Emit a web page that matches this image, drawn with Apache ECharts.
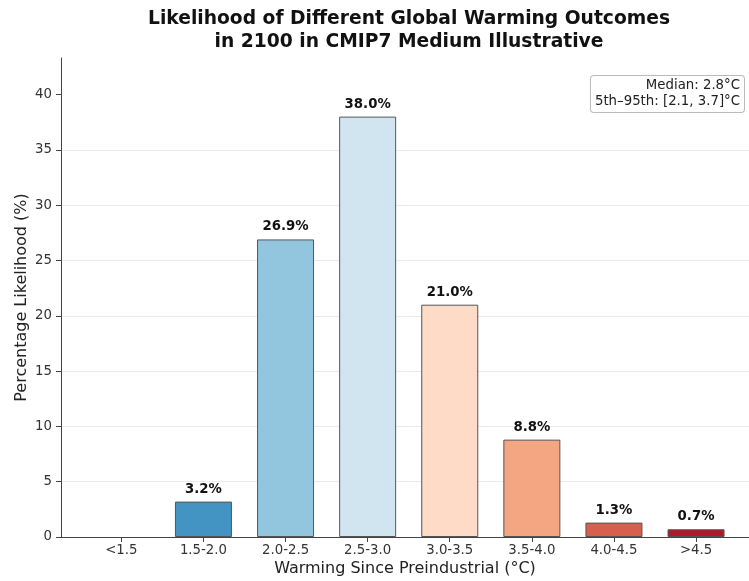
<!DOCTYPE html>
<html>
<head>
<meta charset="utf-8">
<script src="https://cdn.jsdelivr.net/npm/echarts@6.0.0/dist/echarts.min.js"></script>
<style>
html,body{margin:0;padding:0;background:#fff;}
#chart{width:749px;height:581px;}
</style>
</head>
<body>
<div id="chart"></div>
<script>
var categories = ['<1.5', '1.5-2.0', '2.0-2.5', '2.5-3.0', '3.0-3.5', '3.5-4.0', '4.0-4.5', '>4.5'];
var likelihood = [0.0, 3.2, 26.9, 38.0, 21.0, 8.8, 1.3, 0.7];
var yTicks = [0, 5, 10, 15, 20, 25, 30, 35, 40];
var statsLines = ['Median: 2.8°C', '5th–95th: [2.1, 3.7]°C'];

var palette = ['#2166ac', '#4393c3', '#92c5de', '#d1e5f0', '#fddbc7', '#f4a582', '#d6604d', '#b2182b'];
var FONT = 'DejaVu Sans';

var chart = echarts.init(document.getElementById('chart'), null, {renderer: 'canvas'});
var xIdx = categories.map(function (c, i) { return i; });

chart.setOption({
  animation: false,
  backgroundColor: '#fff',
  textStyle: {fontFamily: FONT},
  title: {
    text: 'Likelihood of Different Global Warming Outcomes\nin 2100 in CMIP7 Medium Illustrative',
    left: 404,
    top: 3,
    textAlign: 'center',
    textStyle: {fontFamily: FONT, fontSize: 18.7, fontWeight: 'bold', color: '#111', lineHeight: 23}
  },
  grid: {left: 61, right: 0, top: 58, bottom: 44, containLabel: false, outerBoundsMode: 'none'},
  xAxis: {
    type: 'value',
    min: -0.735,
    max: 7.645,
    name: 'Warming Since Preindustrial (°C)',
    nameLocation: 'middle',
    nameGap: 24,
    nameMoveOverlap: false,
    nameTextStyle: {fontFamily: FONT, fontSize: 16, color: '#222'},
    axisLine: {show: true, onZero: false, lineStyle: {color: '#444', width: 1}},
    axisTick: {show: true, customValues: xIdx, length: 5, lineStyle: {color: '#444'}},
    axisLabel: {
      customValues: xIdx,
      fontFamily: FONT, fontSize: 13.3, color: '#333', margin: 7,
      formatter: function (v) { return categories[Math.round(v)]; }
    },
    splitLine: {show: false}
  },
  yAxis: {
    type: 'value',
    min: 0,
    max: 43.3,
    name: 'Percentage Likelihood (%)',
    nameLocation: 'middle',
    nameGap: 31,
    nameMoveOverlap: false,
    nameTextStyle: {fontFamily: FONT, fontSize: 16, color: '#222'},
    axisLine: {show: true, onZero: false, lineStyle: {color: '#444', width: 1}},
    axisTick: {show: true, customValues: yTicks, length: 5, lineStyle: {color: '#444'}},
    axisLabel: {customValues: yTicks, fontFamily: FONT, fontSize: 13.3, color: '#333', margin: 9},
    splitLine: {show: true, showMaxLine: false, lineStyle: {color: '#ebebeb', width: 1}}
  },
  series: [{
    type: 'bar',
    barWidth: 57,
    data: categories.map(function (c, i) {
      return {
        value: [i, likelihood[i]],
        itemStyle: likelihood[i] > 0 ? {} : {borderWidth: 0, opacity: 0}
      };
    }),
    itemStyle: {
      color: function (p) { return palette[p.dataIndex]; },
      borderColor: '#555',
      borderWidth: 1
    },
    label: {
      show: true,
      position: 'top',
      distance: 6,
      fontFamily: FONT,
      fontSize: 13.3,
      fontWeight: 'bold',
      color: '#111',
      formatter: function (p) { return p.value[1] > 0 ? p.value[1].toFixed(1) + '%' : ''; }
    }
  }],
  graphic: [{
    type: 'text',
    x: 744,
    y: 76,
    style: {
      text: statsLines.join('\n'),
      align: 'right',
      verticalAlign: 'top',
      fontFamily: FONT,
      fontSize: 13.3,
      lineHeight: 16,
      fill: '#222',
      backgroundColor: '#fff',
      borderColor: '#bbb',
      borderWidth: 1,
      borderRadius: 3,
      padding: [2, 4, 2, 4]
    }
  }]
});
</script>
</body>
</html>
